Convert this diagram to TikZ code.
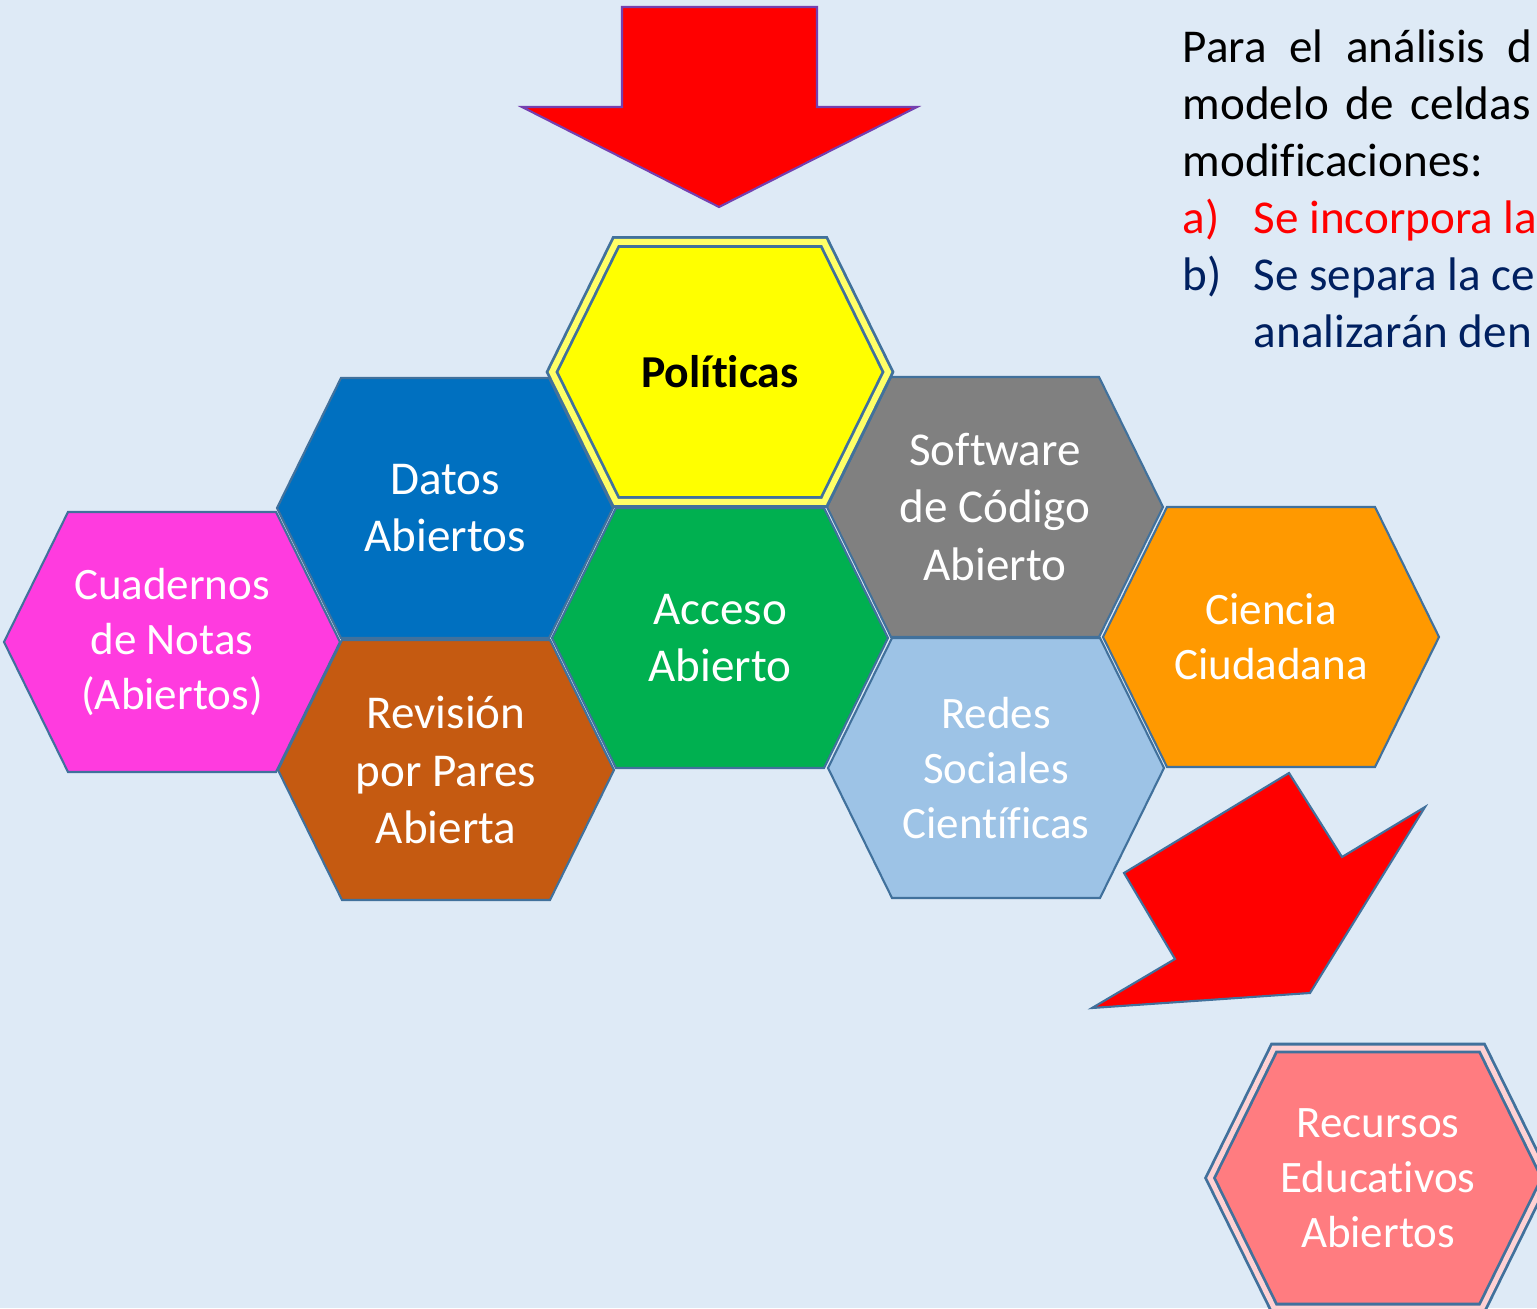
\documentclass[tikz,border=0pt]{standalone}
\usepackage{fontspec}
\setmainfont[Ligatures=NoCommon]{Carlito}
\usepackage{xcolor}
\usepackage{tikz}
\usetikzlibrary{positioning}
\definecolor{celbg}{HTML}{DEEAF6}
\definecolor{celline}{HTML}{41719C}
\definecolor{celyellow}{HTML}{FFFF00}
\definecolor{celblue}{HTML}{0070C0}
\definecolor{celgreen}{HTML}{00B050}
\definecolor{celgrey}{HTML}{808080}
\definecolor{celmagenta}{HTML}{FF3BDF}
\definecolor{celbrown}{HTML}{C55A11}
\definecolor{celsky}{HTML}{9DC3E6}
\definecolor{celorange}{HTML}{FF9900}
\definecolor{celsalmon}{HTML}{FF7C80}
\definecolor{celred}{HTML}{FF0000}
\definecolor{celnavy}{HTML}{002060}
\definecolor{celviolet}{HTML}{7440B0}

\tikzset{
  hexa/.pic={\path[pic actions] (-1.68,0) -- (-1.04,1.30) -- (1.04,1.30) -- (1.68,0) -- (1.04,-1.30) -- (-1.04,-1.30) -- cycle;},
  hexcell/.style={draw=celline, line width=0.6pt},
  hexdouble/.style={draw=celline, line width=0.8pt, double distance=0.06cm},
  hexlabel/.style={align=center, text=white, inner sep=0pt, font=\fontsize{13.4}{16.3}\selectfont},
  hexsmall/.style={hexlabel, font=\fontsize{12.8}{15.6}\selectfont},
  notetext/.style={anchor=base west, inner sep=0pt, font=\fontsize{13.4}{16.3}\selectfont},
}

\begin{document}
\begin{tikzpicture}[x=1cm,y=1cm]
  \fill[celbg] (0,0) rectangle (15.37,13.08);
  \useasboundingbox (0,0) rectangle (15.37,13.08);
  \clip (0,0) rectangle (15.37,13.08);

  % Top arrow
  \draw[fill=celred, draw=celviolet, line width=0.6pt] (6.22,13.01) -- (8.17,13.01) -- (8.17,12.01) -- (9.17,12.01)
    -- (7.19,11.01) -- (5.22,12.01) -- (6.22,12.01) -- cycle;

  % Cells around the centre
  \pic[hexcell, fill=celblue] at (4.45,8.00) {hexa};
  \node[hexlabel] (datos) at (4.45,8.00) {Datos\\Abiertos};

  \pic[hexcell, fill=celgrey] at (9.95,8.01) {hexa};
  \node[hexlabel] (software) at (9.95,8.01) {Software\\de Código\\Abierto};

  \pic[hexcell, fill=celgreen] at (7.20,6.70) {hexa};
  \node[hexlabel] (acceso) at (7.20,6.70) {Acceso\\Abierto};

  \pic[hexcell, fill=celmagenta] at (1.72,6.66) {hexa};
  \node[hexsmall] (cuadernos) at (1.72,6.66) {Cuadernos\\de Notas\\(Abiertos)};

  \pic[hexcell, fill=celbrown] at (4.46,5.38) {hexa};
  \node[hexlabel] (revision) at (4.46,5.38) {Revisión\\por Pares\\Abierta};

  \pic[hexcell, fill=celsky] at (9.96,5.40) {hexa};
  \node[hexsmall] (redes) at (9.96,5.40) {Redes\\Sociales\\Científicas};

  \pic[hexcell, fill=celorange] at (12.71,6.71) {hexa};
  \node[hexsmall] (ciencia) at (12.71,6.71) {Ciencia\\Ciudadana};

  % Políticas on top
  \pic[hexdouble, fill=celyellow, double=celyellow!60!white] at (7.20,9.36) {hexa};
  \node[hexlabel, text=black, font=\bfseries\fontsize{13}{16}\selectfont] (politicas) at (7.20,9.36) {Políticas};

  % Separated cell
  \draw[fill=celred, draw=celline, line width=0.6pt] (12.89,5.35) -- (13.42,4.51) -- (14.25,5.01) -- (13.10,3.15)
    -- (10.92,3.00) -- (11.75,3.49) -- (11.24,4.35) -- cycle;

  \pic[hexdouble, fill=celsalmon, double=celsalmon!35!white, double distance=0.05cm] at (13.78,1.30) {hexa};
  \node[hexsmall] (recursos) at (13.78,1.30) {Recursos\\Educativos\\Abiertos};

  % Note
  \node[notetext] (nota1) at (11.82,12.45) {\makebox[3.50cm][s]{Para el análisis d}};
  \node[notetext] (nota2) at (11.82,11.88) {\makebox[3.48cm][s]{modelo de celdas}};
  \node[notetext] (nota3) at (11.82,11.31) {modificaciones:};
  \node[notetext, text=celred] (itema) at (11.82,10.74) {a)};
  \node[notetext, text=celred] (notea) at (12.53,10.74) {Se incorpora la};
  \node[notetext, text=celnavy] (itemb) at (11.82,10.17) {b)};
  \node[notetext, text=celnavy] (noteb) at (12.53,10.17) {Se separa la ce};
  \node[notetext, text=celnavy] (notec) at (12.53,9.60) {analizarán den};
\end{tikzpicture}
\end{document}
